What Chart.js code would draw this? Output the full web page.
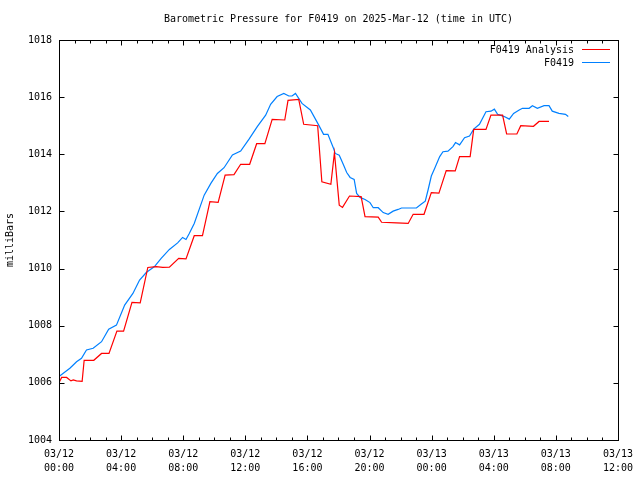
<!DOCTYPE html>
<html lang="en">
<head>
  <meta charset="UTF-8">
  <title>Barometric Pressure for F0419</title>
  <script src="https://cdn.jsdelivr.net/npm/chart.js"></script>
  <style>
    body { margin: 0; padding: 0; background: #fff; }
    canvas { display: block; }
  </style>
</head>
<body>
  <canvas id="pressure-chart" width="640" height="480"></canvas>

  <script>
    // Hours since 03/12 00:00 UTC, pressure in millibars
    const analysisHours = [0, 0.17, 0.49, 0.77, 0.92, 1.13, 1.49, 1.62, 2.24, 2.74, 3.22, 3.73, 4.16, 4.70, 5.23, 5.72, 6.26, 6.68, 7.11, 7.71, 8.18, 8.71, 9.24, 9.72, 10.25, 10.70, 11.27, 11.70, 12.28, 12.73, 13.26, 13.73, 14.54, 14.75, 15.44, 15.76, 16.66, 16.93, 17.51, 17.74, 18.05, 18.26, 18.71, 19.46, 19.71, 20.56, 20.78, 21.74, 22.49, 22.81, 23.51, 23.98, 24.47, 24.94, 25.52, 25.80, 26.48, 26.71, 27.50, 27.82, 28.57, 28.83, 29.49, 29.74, 30.56, 30.92, 31.56];
    const analysisValues = [1006.00, 1006.19, 1006.19, 1006.07, 1006.10, 1006.07, 1006.05, 1006.79, 1006.79, 1007.03, 1007.03, 1007.81, 1007.81, 1008.82, 1008.80, 1010.04, 1010.07, 1010.04, 1010.05, 1010.36, 1010.34, 1011.15, 1011.15, 1012.34, 1012.32, 1013.27, 1013.29, 1013.65, 1013.65, 1014.37, 1014.37, 1015.22, 1015.20, 1015.89, 1015.92, 1015.05, 1015.00, 1013.04, 1012.95, 1014.06, 1012.22, 1012.14, 1012.54, 1012.52, 1011.82, 1011.80, 1011.62, 1011.60, 1011.58, 1011.90, 1011.90, 1012.66, 1012.64, 1013.43, 1013.42, 1013.92, 1013.92, 1014.87, 1014.87, 1015.37, 1015.37, 1014.71, 1014.71, 1015.00, 1014.98, 1015.15, 1015.15];

    const obsHours = [0, 0.70, 1.13, 1.45, 1.77, 2.20, 2.74, 3.20, 3.70, 4.23, 4.76, 5.19, 5.62, 6.15, 6.58, 7.11, 7.64, 7.96, 8.18, 8.39, 8.71, 9.35, 9.78, 10.20, 10.63, 11.17, 11.70, 12.24, 12.77, 13.31, 13.63, 14.05, 14.48, 14.80, 15.01, 15.23, 15.65, 16.19, 16.72, 17.04, 17.32, 17.68, 17.79, 18.05, 18.32, 18.53, 18.75, 19.01, 19.17, 19.39, 19.71, 20.03, 20.24, 20.56, 20.88, 21.20, 21.52, 21.84, 22.06, 23.02, 23.34, 23.59, 23.77, 23.98, 24.20, 24.52, 24.73, 25.05, 25.37, 25.54, 25.80, 26.12, 26.44, 26.71, 27.08, 27.50, 27.82, 28.04, 28.25, 28.68, 29.00, 29.28, 29.64, 29.85, 30.28, 30.49, 30.81, 31.24, 31.56, 31.77, 32.20, 32.62, 32.80];
    const obsValues = [1006.22, 1006.51, 1006.74, 1006.86, 1007.15, 1007.21, 1007.44, 1007.88, 1008.02, 1008.72, 1009.13, 1009.60, 1009.86, 1010.07, 1010.36, 1010.67, 1010.90, 1011.09, 1011.02, 1011.23, 1011.58, 1012.57, 1012.98, 1013.33, 1013.53, 1013.98, 1014.11, 1014.53, 1014.97, 1015.37, 1015.75, 1016.02, 1016.13, 1016.04, 1016.04, 1016.13, 1015.78, 1015.55, 1015.03, 1014.70, 1014.70, 1014.21, 1014.03, 1013.97, 1013.63, 1013.36, 1013.19, 1013.12, 1012.63, 1012.49, 1012.42, 1012.31, 1012.13, 1012.13, 1011.96, 1011.90, 1012.01, 1012.07, 1012.12, 1012.12, 1012.26, 1012.36, 1012.75, 1013.24, 1013.51, 1013.92, 1014.09, 1014.11, 1014.27, 1014.41, 1014.33, 1014.58, 1014.64, 1014.88, 1015.05, 1015.49, 1015.51, 1015.58, 1015.40, 1015.32, 1015.23, 1015.43, 1015.55, 1015.61, 1015.61, 1015.70, 1015.61, 1015.70, 1015.70, 1015.51, 1015.43, 1015.40, 1015.32];

    const seriesLabels = ['F0419 Analysis', 'F0419'];
    const seriesColors = ['#ff0000', '#0080ff'];
    const dayLabels = ['03/12', '03/12', '03/12', '03/12', '03/12', '03/12', '03/13', '03/13', '03/13', '03/13'];
    const timeLabels = ['00:00', '04:00', '08:00', '12:00', '16:00', '20:00', '00:00', '04:00', '08:00', '12:00'];
    const titleText = 'Barometric Pressure for F0419 on 2025-Mar-12 (time in UTC)';
    const yTitle = 'milliBars';

    const monoFont = '10px "DejaVu Sans Mono", monospace';

    function toPoints(xs, ys) {
      return xs.map((h, i) => ({ x: h, y: ys[i] }));
    }

    // gnuplot look: frame, inward ticks, title, y label and legend
    const gnuplotFrame = {
      id: 'gnuplotFrame',
      afterDraw(chart) {
        const { ctx, chartArea: a, scales: { x, y } } = chart;
        const L = Math.round(a.left) + 0.5, R = Math.round(a.right) + 0.5;
        const T = Math.round(a.top) + 0.5, B = Math.round(a.bottom) + 0.5;
        ctx.save();
        ctx.strokeStyle = '#000';
        ctx.lineWidth = 1;
        ctx.beginPath();
        // x ticks every hour, longer ones every 4 hours
        for (let h = 0; h <= 36; h++) {
          const px = Math.round(x.getPixelForValue(h)) + 0.5;
          const len = h % 4 === 0 ? 5 : 3;
          ctx.moveTo(px, B); ctx.lineTo(px, B - len);
          ctx.moveTo(px, T); ctx.lineTo(px, T + len);
        }
        for (let v = 1004; v <= 1018; v += 2) {
          const py = Math.round(y.getPixelForValue(v)) + 0.5;
          ctx.moveTo(L, py); ctx.lineTo(L + 5, py);
          ctx.moveTo(R, py); ctx.lineTo(R - 5, py);
        }
        ctx.stroke();
        ctx.strokeRect(L, T, R - L, B - T);

        ctx.fillStyle = '#000';
        ctx.font = monoFont;
        ctx.textBaseline = 'middle';
        ctx.textAlign = 'center';
        ctx.fillText(titleText, (a.left + a.right) / 2, 19);

        ctx.save();
        ctx.translate(10, (a.top + a.bottom) / 2);
        ctx.rotate(-Math.PI / 2);
        ctx.fillText(yTitle, 0, 0);
        ctx.restore();

        // legend: text then a line sample, top right
        ctx.textAlign = 'right';
        chart.data.datasets.forEach((ds, i) => {
          const ly = 50 + i * 13;
          ctx.fillText(ds.label, 574, ly);
          ctx.strokeStyle = ds.borderColor;
          ctx.beginPath();
          ctx.moveTo(582, ly - 0.5);
          ctx.lineTo(610, ly - 0.5);
          ctx.stroke();
        });
        ctx.restore();
      }
    };

    new Chart(document.getElementById('pressure-chart'), {
      type: 'line',
      data: {
        datasets: [
          {
            label: seriesLabels[0],
            data: toPoints(analysisHours, analysisValues),
            borderColor: seriesColors[0],
            borderWidth: 1.2,
            pointRadius: 0,
            tension: 0
          },
          {
            label: seriesLabels[1],
            data: toPoints(obsHours, obsValues),
            borderColor: seriesColors[1],
            borderWidth: 1.2,
            pointRadius: 0,
            tension: 0
          }
        ]
      },
      options: {
        responsive: false,
        animation: false,
        layout: { padding: { top: 40, right: 19, left: 0, bottom: 0 } },
        plugins: {
          legend: { display: false },
          tooltip: { enabled: false }
        },
        scales: {
          x: {
            type: 'linear',
            min: 0,
            max: 36,
            afterFit: s => { s.height = 40; },
            afterBuildTicks: s => {
              s.ticks = timeLabels.map((_, i) => ({ value: i * 4 }));
            },
            grid: { display: false, drawTicks: false },
            border: { display: false },
            ticks: {
              maxRotation: 0,
              autoSkip: false,
              padding: 7,
              color: '#000',
              font: { family: '"DejaVu Sans Mono", monospace', size: 10, lineHeight: 1.4 },
              callback: v => {
                const i = Math.round(v / 4);
                return [dayLabels[i], timeLabels[i]];
              }
            }
          },
          y: {
            min: 1004,
            max: 1018,
            afterFit: s => { s.width = 59; },
            grid: { display: false, drawTicks: false },
            border: { display: false },
            ticks: {
              stepSize: 2,
              padding: 7,
              color: '#000',
              font: { family: '"DejaVu Sans Mono", monospace', size: 10 },
              callback: v => String(v)
            }
          }
        }
      },
      plugins: [gnuplotFrame]
    });
  </script>
</body>
</html>
